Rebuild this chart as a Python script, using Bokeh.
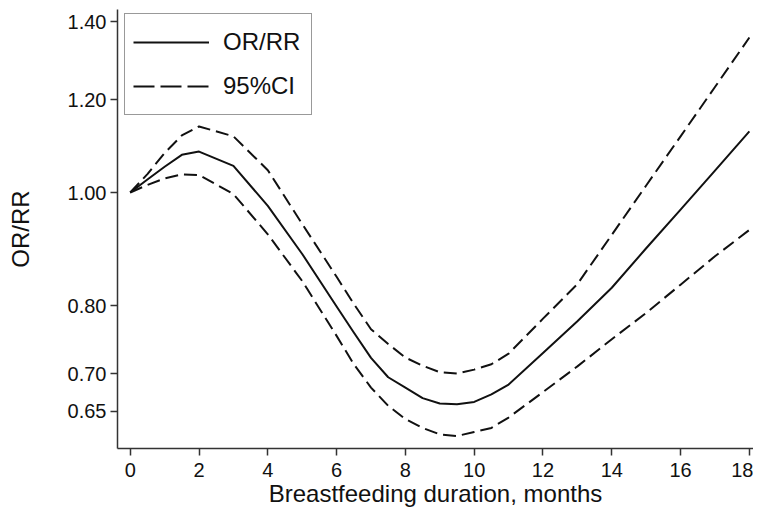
from bokeh.plotting import figure
from bokeh.models import (Range1d, FixedTicker, NumeralTickFormatter, Legend,
                          LegendItem, ColumnDataSource)
from bokeh.embed import file_html
from bokeh.resources import INLINE

# ---- data ----
months = [0, 0.5, 1, 1.5, 2, 3, 4, 5, 6, 6.5, 7, 7.5, 8, 8.5, 9, 9.5, 10, 10.5,
          11, 12, 13, 14, 15, 16, 17, 18]
or_rr = [1.000, 1.026, 1.052, 1.077, 1.084, 1.054, 0.974, 0.886, 0.799, 0.759,
         0.722, 0.695, 0.681, 0.667, 0.660, 0.659, 0.662, 0.672,
         0.685, 0.729, 0.776, 0.829, 0.896, 0.967, 1.044, 1.128]
ci_upper = [1.000, 1.037, 1.081, 1.119, 1.139, 1.117, 1.045, 0.940, 0.847, 0.803,
            0.764, 0.742, 0.7225, 0.711, 0.702, 0.700, 0.7055, 0.713,
            0.728, 0.780, 0.835, 0.920, 1.014, 1.117, 1.231, 1.357]
ci_lower = [1.000, 1.015, 1.028, 1.0365, 1.035, 0.997, 0.921, 0.840, 0.754, 0.713,
            0.681, 0.657, 0.640, 0.629, 0.621, 0.619, 0.624, 0.629,
            0.642, 0.675, 0.710, 0.749, 0.789, 0.834, 0.882, 0.929]
x_ticks = [0, 2, 4, 6, 8, 10, 12, 14, 16, 18]
y_ticks = [0.65, 0.70, 0.80, 1.00, 1.20, 1.40]

FONT = "Liberation Sans"
INK = "#111111"

p = figure(width=753, height=512, y_axis_type="log",
           x_range=Range1d(-0.37, 18.12), y_range=Range1d(0.604, 1.434),
           output_backend="svg", toolbar_location=None,
           min_border_left=117, min_border_top=9, min_border_right=0,
           min_border_bottom=64)
p.outline_line_color = None
p.grid.grid_line_color = None
p.background_fill_color = "white"
p.border_fill_color = "white"

src = ColumnDataSource(dict(x=months, est=or_rr, up=ci_upper, lo=ci_lower))
r_est = p.line("x", "est", source=src, line_color=INK, line_width=2,
               line_join="round")
r_up = p.line("x", "up", source=src, line_color=INK, line_width=2,
              line_dash="13 6", line_join="round")
r_lo = p.line("x", "lo", source=src, line_color=INK, line_width=2,
              line_dash="13 6", line_join="round")

# non-drawing renderer (NaN data), only used for the legend sample with longer dashes
leg_src = ColumnDataSource(dict(x=[float("nan")], y=[float("nan")]))
r_leg_dash = p.line("x", "y", source=leg_src, line_color=INK, line_width=2,
                    line_dash="21 6")

# axes
for ax in (p.xaxis[0], p.yaxis[0]):
    ax.axis_line_color = "#333333"
    ax.axis_line_width = 1.5
    ax.major_tick_line_color = "#333333"
    ax.major_tick_line_width = 1.5
    ax.major_tick_in = 0
    ax.major_tick_out = 7
    ax.minor_tick_line_color = None
    ax.major_label_text_font = FONT
    ax.major_label_text_font_size = "20px"
    ax.major_label_text_color = INK
    ax.axis_label_text_font = FONT
    ax.axis_label_text_font_size = "24px"
    ax.axis_label_text_font_style = "normal"
    ax.axis_label_text_color = INK

p.xaxis.ticker = FixedTicker(ticks=x_ticks)
p.xaxis.axis_label = "Breastfeeding duration, months"
p.xaxis.major_label_standoff = 7
p.xaxis.axis_label_standoff = 0

p.yaxis.ticker = FixedTicker(ticks=y_ticks)
p.yaxis.formatter = NumeralTickFormatter(format="0.00")
p.yaxis.axis_label = "OR/RR"
p.yaxis.major_label_standoff = 4
p.yaxis.axis_label_standoff = 31

legend = Legend(items=[LegendItem(label="OR/RR", renderers=[r_est]),
                       LegendItem(label="95%CI", renderers=[r_leg_dash])],
                location=(7, 333))
legend.label_text_font = FONT
legend.label_text_font_size = "24px"
legend.label_text_color = INK
legend.glyph_width = 76
legend.glyph_height = 40
legend.label_height = 40
legend.label_width = 80
legend.label_standoff = 14
legend.spacing = 4
legend.padding = 8
legend.margin = 0
legend.border_line_color = "#333333"
legend.border_line_width = 1.5
legend.background_fill_alpha = 1.0
p.add_layout(legend, "center")

open("out.html", "w").write(file_html(p, INLINE))
